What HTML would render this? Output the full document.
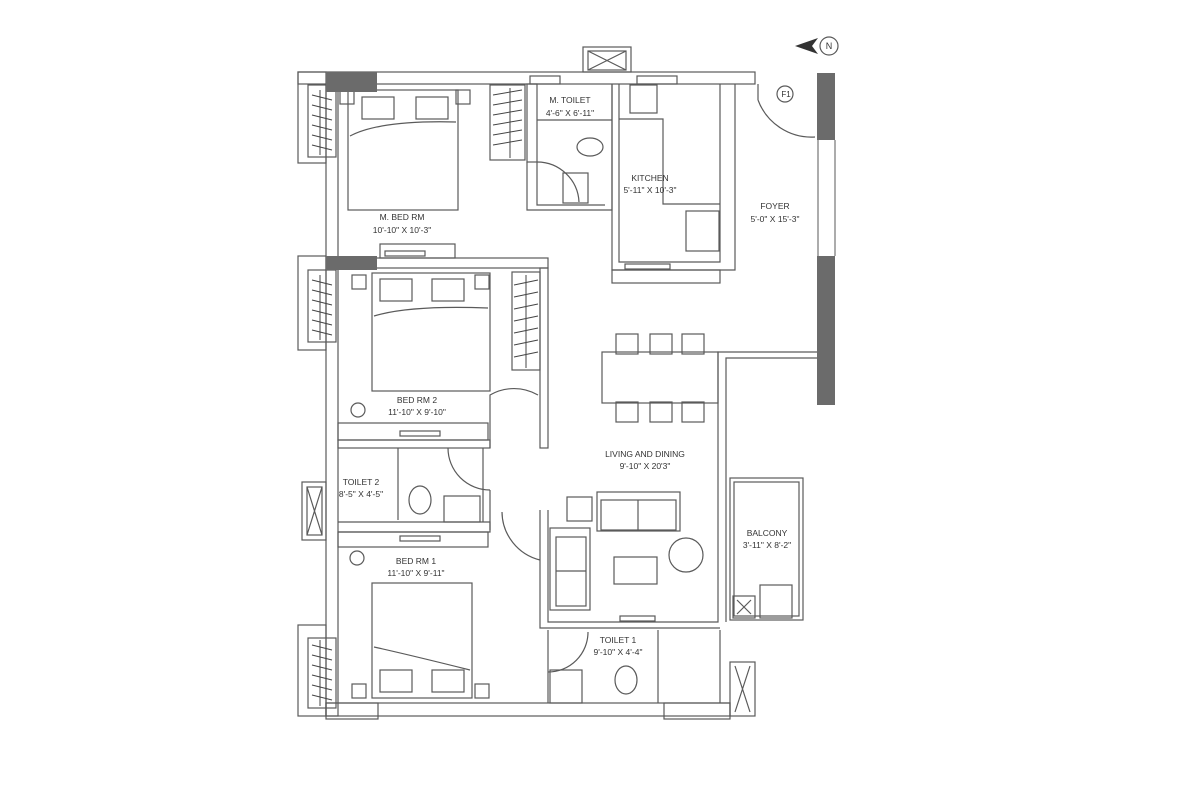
<!DOCTYPE html>
<html><head><meta charset="utf-8"><style>
html,body{margin:0;padding:0;background:#fff;}
svg{display:block}
text{font-family:"Liberation Sans",sans-serif;font-size:8.5px;fill:#333;text-anchor:middle;}
</style></head><body>
<svg width="1200" height="800" viewBox="0 0 1200 800" xmlns="http://www.w3.org/2000/svg">
<g fill="none" stroke="#5a5a5a" stroke-width="1.2">
<rect x="298" y="72" width="457" height="12"/>
<rect x="583" y="47" width="48" height="25"/><rect x="588" y="51" width="38" height="19"/>
<path d="M588 51 L626 70 M626 51 L588 70"/>
<rect x="530" y="76" width="30" height="8"/><rect x="637" y="76" width="40" height="8"/>
<rect x="326" y="84" width="12" height="632"/>
<rect x="298" y="72" width="28" height="91"/>
<rect x="298" y="256" width="28" height="94"/>
<rect x="302" y="482" width="24" height="58"/><rect x="307" y="487" width="15" height="48"/><path d="M307 487 L322 535 M322 487 L307 535"/>
<rect x="298" y="625" width="28" height="91"/>
<rect x="338" y="258" width="210" height="10"/>
<rect x="380" y="244" width="75" height="14"/><rect x="385" y="251" width="40" height="5"/>
<rect x="308" y="85" width="28" height="72"/>
<rect x="308" y="270" width="28" height="72"/>
<rect x="308" y="638" width="28" height="70"/>
<rect x="490" y="85" width="35" height="75"/>
<rect x="512" y="272" width="28" height="98"/>
<rect x="527" y="84" width="10" height="78"/>
<path d="M527 162 L527 210 L612 210 L612 84 M537 120 L612 120 M537 162 L537 205 L605 205"/>
<path d="M612 84 L612 270 L735 270 L735 84 M720 84 L720 262 L619 262 L619 84"/>
<rect x="612" y="270" width="108" height="13"/>
<rect x="625" y="264" width="45" height="5"/>
<rect x="630" y="85" width="27" height="28"/>
<path d="M619 119 L663 119 L663 204 L720 204"/>
<rect x="686" y="211" width="33" height="40"/>
<rect x="563" y="173" width="25" height="30"/>
<ellipse cx="590" cy="147" rx="13" ry="9"/>
<path d="M537 162 A42 42 0 0 1 579 202"/>
<rect x="540" y="268" width="8" height="180"/>
<path d="M490 448 L490 395 A48 48 0 0 1 538 395"/>
<rect x="338" y="440" width="152" height="8"/>
<rect x="338" y="423" width="150" height="17"/>
<rect x="400" y="431" width="40" height="5"/>
<path d="M398 448 L398 520 M338 522 L490 522 L490 532 L338 532 M483 448 L483 522"/>
<rect x="444" y="496" width="36" height="26"/>
<ellipse cx="420" cy="500" rx="11" ry="14"/>
<path d="M448 448 A42 42 0 0 0 490 490"/>
<rect x="338" y="532" width="150" height="15"/>
<rect x="400" y="536" width="40" height="5"/>
<path d="M490 490 L490 530"/>
<path d="M502 512 A50 50 0 0 0 540 560"/>
<path d="M540 510 L540 628 L720 628 M548 510 L548 622 L718 622 L718 352 L818 352 M726 622 L726 358 L818 358"/>
<rect x="620" y="616" width="35" height="5"/>
<rect x="730" y="478" width="73" height="142"/><rect x="734" y="482" width="65" height="134"/>
<rect x="733" y="596" width="22" height="22"/><path d="M737 600 L751 614 M751 600 L737 614"/>
<rect x="760" y="585" width="32" height="33"/>
<rect x="602" y="352" width="116" height="51"/>
<rect x="616" y="334" width="22" height="20"/><rect x="650" y="334" width="22" height="20"/><rect x="682" y="334" width="22" height="20"/>
<rect x="616" y="402" width="22" height="20"/><rect x="650" y="402" width="22" height="20"/><rect x="682" y="402" width="22" height="20"/>
<rect x="597" y="492" width="83" height="39"/><rect x="601" y="500" width="75" height="30"/><path d="M638 500 L638 530"/>
<rect x="550" y="528" width="40" height="82"/><rect x="556" y="537" width="30" height="69"/><path d="M556 571 L586 571"/>
<rect x="567" y="497" width="25" height="24"/>
<rect x="614" y="557" width="43" height="27"/>
<circle cx="686" cy="555" r="17"/>
<path d="M548 630 L548 703 M658 630 L658 703 M720 630 L720 703 M548 672 A40 40 0 0 0 588 632"/>
<rect x="550" y="670" width="32" height="33"/>
<ellipse cx="626" cy="680" rx="11" ry="14"/>
<rect x="730" y="662" width="25" height="54"/><path d="M735 666 L750 712 M750 666 L735 712"/>
<rect x="326" y="703" width="404" height="13"/>
<rect x="326" y="703" width="52" height="16"/>
<rect x="664" y="703" width="66" height="16"/>
<rect x="348" y="90" width="110" height="120"/><rect x="362" y="97" width="32" height="22"/><rect x="416" y="97" width="32" height="22"/>
<path d="M350 136 Q380 120 456 122"/>
<rect x="372" y="273" width="118" height="118"/><rect x="380" y="279" width="32" height="22"/><rect x="432" y="279" width="32" height="22"/>
<path d="M374 316 Q410 305 488 308"/>
<rect x="372" y="583" width="100" height="115"/><rect x="380" y="670" width="32" height="22"/><rect x="432" y="670" width="32" height="22"/>
<path d="M374 647 Q410 655 470 670"/>
<circle cx="358" cy="410" r="7"/><circle cx="357" cy="558" r="7"/>
<rect x="340" y="90" width="14" height="14"/><rect x="456" y="90" width="14" height="14"/>
<rect x="352" y="275" width="14" height="14"/><rect x="475" y="275" width="14" height="14"/>
<rect x="352" y="684" width="14" height="14"/><rect x="475" y="684" width="14" height="14"/>
<path d="M758 84 L758 100 M758 100 A57 57 0 0 0 815 137"/>
<circle cx="785" cy="94" r="8"/>
<circle cx="829" cy="46" r="9"/>
</g>
<g fill="none" stroke="#444" stroke-width="1">
<path d="M312 95 L332 100 M312 105 L332 110 M312 115 L332 120 M312 125 L332 130 M312 135 L332 140 M312 145 L332 150 M320 90 L320 155"/>
<path d="M312 280 L332 285 M312 290 L332 295 M312 300 L332 305 M312 310 L332 315 M312 320 L332 325 M312 330 L332 335 M320 275 L320 340"/>
<path d="M312 645 L332 650 M312 655 L332 660 M312 665 L332 670 M312 675 L332 680 M312 685 L332 690 M312 695 L332 700 M320 640 L320 706"/>
<path d="M493 95 L522 90 M493 105 L522 100 M493 115 L522 110 M493 125 L522 120 M493 135 L522 130 M493 145 L522 140 M510 88 L510 158"/>
<path d="M514 285 L538 280 M514 297 L538 292 M514 309 L538 304 M514 321 L538 316 M514 333 L538 328 M514 345 L538 340 M514 357 L538 352 M526 275 L526 368"/>
</g>
<rect x="326" y="72" width="51" height="20" fill="#6b6b6b"/>
<rect x="326" y="256" width="51" height="14" fill="#6b6b6b"/>
<rect x="817" y="73" width="18" height="67" fill="#6b6b6b"/>
<rect x="817" y="256" width="18" height="149" fill="#6b6b6b"/>
<path d="M835 140 L835 256 M818 140 L818 256" stroke="#5a5a5a" fill="none"/>
<path d="M795 46 L818 38 L812 46 L818 54 Z" fill="#333"/>
<text x="829" y="49" style="font-size:9px">N</text>
<text x="786" y="97" style="font-size:8px">F1</text>
<text x="570" y="103">M. TOILET</text><text x="570" y="116">4'-6" X 6'-11"</text>
<text x="650" y="181">KITCHEN</text><text x="650" y="193">5'-11" X 10'-3"</text>
<text x="775" y="209">FOYER</text><text x="775" y="222">5'-0" X 15'-3"</text>
<text x="402" y="220">M. BED RM</text><text x="402" y="233">10'-10" X 10'-3"</text>
<text x="417" y="403">BED RM 2</text><text x="417" y="415">11'-10" X 9'-10"</text>
<text x="645" y="457">LIVING AND DINING</text><text x="645" y="469">9'-10" X 20'3"</text>
<text x="361" y="485">TOILET 2</text><text x="361" y="497">8'-5" X 4'-5"</text>
<text x="767" y="536">BALCONY</text><text x="767" y="548">3'-11" X 8'-2"</text>
<text x="416" y="564">BED RM 1</text><text x="416" y="576">11'-10" X 9'-11"</text>
<text x="618" y="643">TOILET 1</text><text x="618" y="655">9'-10" X 4'-4"</text>
</svg>
</body></html>
